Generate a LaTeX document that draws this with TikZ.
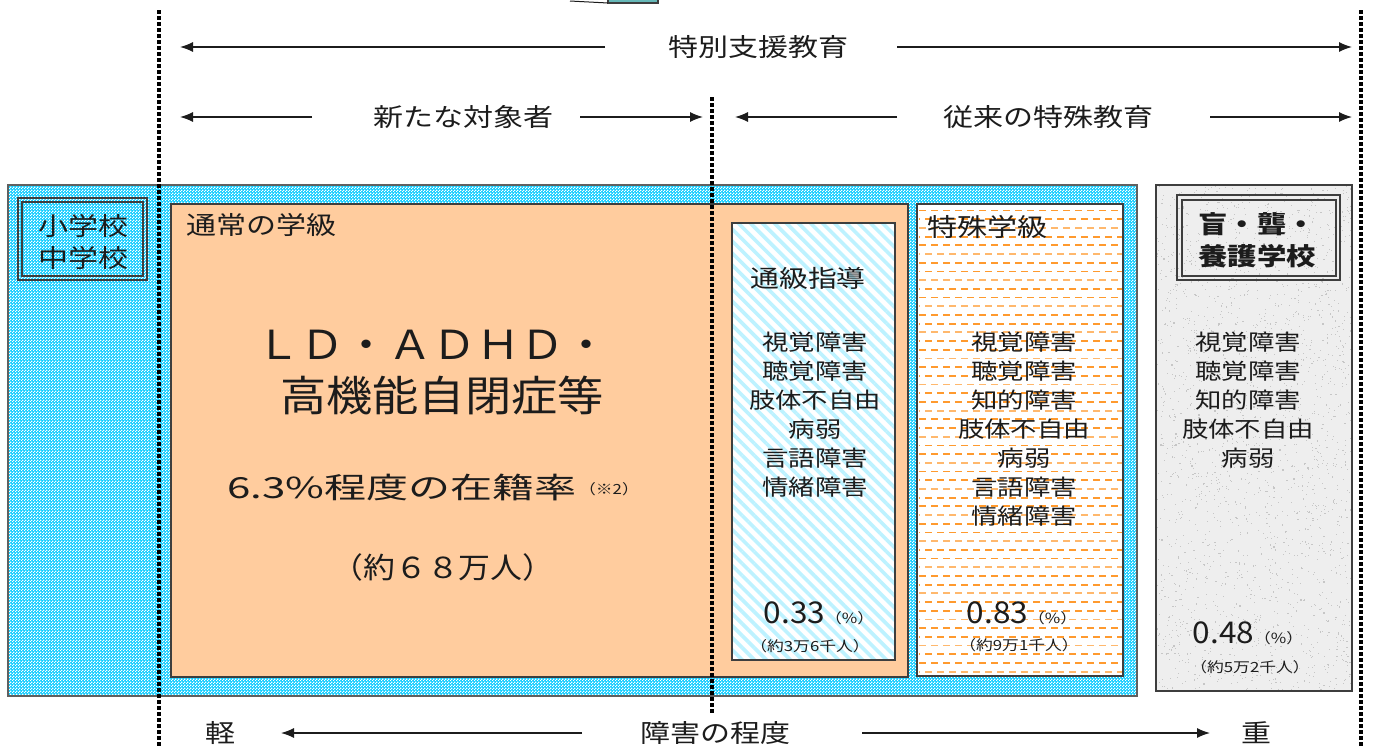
\documentclass[tikz,border=0pt]{standalone}
\usepackage{fontspec}
\usetikzlibrary{arrows.meta,patterns,patterns.meta}
\newfontfamily\jp[FakeStretch=1.2]{Noto Sans CJK JP}
\newfontfamily\jpw[FakeStretch=1.45]{Noto Sans CJK JP}
\newfontfamily\jpn[FakeStretch=1.1]{Noto Sans CJK JP}
\newfontfamily\jpd[FakeStretch=1.05]{Noto Sans CJK JP}
\definecolor{cyanbg}{HTML}{10CCFF}
\definecolor{peach}{HTML}{FFCC9E}
\definecolor{stripecol}{HTML}{BDF2FF}
\definecolor{dashor}{HTML}{FF9A2E}
\definecolor{grayfill}{HTML}{EEEEEE}
\definecolor{ink}{HTML}{1C1C1C}
\definecolor{boxteal}{HTML}{66B8B8}
\pgfdeclarepatternformonly{checker}{\pgfqpoint{0pt}{0pt}}{\pgfqpoint{3pt}{3pt}}{\pgfqpoint{3pt}{3pt}}{%
  \pgfpathrectangle{\pgfqpoint{0pt}{0pt}}{\pgfqpoint{1.5pt}{1.5pt}}%
  \pgfpathrectangle{\pgfqpoint{1.5pt}{1.5pt}}{\pgfqpoint{1.5pt}{1.5pt}}%
  \pgfusepath{fill}}
\tikzset{
  dotline/.style={draw=black, line width=4pt, dash pattern=on 3.5pt off 2.5pt},
  arr/.style={draw=ink, line width=1.3pt, -{Latex[length=13pt,width=10pt]}},
  boxline/.style={draw=ink!85, line width=1.3pt},
  lbl/.style={font=\jp\fontsize{25}{30}\selectfont, text=ink, inner sep=0pt},
  item/.style={font=\jp\fontsize{22}{29}\selectfont, text=ink, inner sep=0pt, align=center, anchor=north},
  pct/.style={text=ink, inner sep=0pt},
  small/.style={font=\jp\fontsize{14}{16}\selectfont, text=ink, inner sep=0pt},
  panel/.style={boxline, rectangle, inner sep=0pt, outer sep=0pt, anchor=north west},
}
\begin{document}
\begin{tikzpicture}[x=1pt,y=-1pt]
\useasboundingbox (0,0) rectangle (1374,747);
\fill[white] (0,0) rectangle (1374,747);

% cut-off element at top
\coordinate (cutl) at (570,1);
\node[panel, fill=boxteal, minimum width=50pt, minimum height=14pt] (cutbox) at (608,-11) {};
\draw[ink, line width=1pt] (cutl) -- (cutbox.south west);

% outer blue panel
\node[panel, minimum width=1129pt, minimum height=511pt,
      preaction={fill=cyanbg}, pattern=checker, pattern color=white] (outer) at (8,185) {};
\node[panel, minimum width=1129pt, minimum height=511pt, draw=ink!70, line width=1.2pt] at (8,185) {};

% small double box
\node[panel, minimum width=129pt, minimum height=82pt] (sm) at (18,198) {};
\draw[boxline] ([shift={(4,4)}]sm.north west) rectangle ([shift={(-4,-4)}]sm.south east);
\node[lbl, align=center, font=\jp\fontsize{25}{32}\selectfont] (smt) at (83,242) {小学校\\中学校};

% orange regular class box
\node[panel, fill=peach, minimum width=737pt, minimum height=473pt] (reg) at (171,204) {};
\node[lbl, anchor=west] (regt) at (186,225) {通常の学級};

% tsukyu box with stripes
\node[panel, minimum width=163pt, minimum height=437pt, fill=white] (tsu) at (732,223) {};
\begin{scope}
  \clip (tsu.north west) rectangle (tsu.south east);
  \fill[pattern={Lines[angle=-45,distance=8.5pt,line width=3.6pt]}, pattern color=stripecol]
    (tsu.north west) rectangle (tsu.south east);
\end{scope}
\node[panel, minimum width=163pt, minimum height=437pt] at (732,223) {};

% special class box with orange dashes
\node[panel, minimum width=206pt, minimum height=472pt, fill=white] (spc) at (917,204) {};
\begin{scope}
  \clip ([shift={(1,1)}]spc.north west) rectangle ([shift={(-1,-1)}]spc.south east);
  \foreach \i in {0,...,53} {
    \pgfmathsetmacro\yy{210.5+\i*8.7}
    \pgfmathsetmacro\ph{mod(\i,2)*6}
    \pgfmathtruncatemacro\lt{mod(\i,3)}
    \ifnum\lt=2
      \draw[dashor!70, line width=1.8pt, dash pattern=on 7pt off 5pt, dash phase=\ph pt] (919,\yy) -- (1122,\yy);
    \else
      \draw[dashor, line width=1.8pt, dash pattern=on 7pt off 5pt, dash phase=\ph pt] (919,\yy) -- (1122,\yy);
    \fi
  }
\end{scope}
\node[panel, minimum width=206pt, minimum height=472pt] at (917,204) {};
\node[lbl, anchor=west] (spct) at (927,227) {特殊学級};

% gray school box
\node[panel, fill=grayfill, minimum width=196pt, minimum height=506pt] (sch) at (1156,185) {};
\begin{scope}
  \clip (sch.north west) rectangle (sch.south east);
  \pgfmathsetseed{17}
  \foreach \i in {1,...,2200} {
    \fill[gray!45] ({1156+rnd*196},{185+rnd*506}) rectangle ++(1.1,1.1);
  }
\end{scope}
\node[panel, minimum width=196pt, minimum height=506pt] at (1156,185) {};
\node[panel, minimum width=163pt, minimum height=85pt, line width=1.8pt] (schb) at (1177,195) {};
\draw[boxline, line width=1.5pt] ([shift={(5,5)}]schb.north west) rectangle ([shift={(-4,-4)}]schb.south east);
\node[lbl, align=left, font=\jp\bfseries\fontsize{24.5}{32}\selectfont] (scht) at (1257,240) {盲・聾・\\養護学校};

% dotted vertical lines
\coordinate (dl1) at (158.5,10);
\coordinate (dl2) at (158.5,747);
\coordinate (dr1) at (1360.5,10);
\coordinate (dr2) at (1360.5,747);
\coordinate (dm1) at (712,97);
\coordinate (dm2) at (712,714);
\draw[dotline] (dl1) -- (dl2);
\draw[dotline] (dr1) -- (dr2);
\draw[dotline] (dm1) -- (dm2);

% top row arrows
\node[lbl] (t1) at (758,47) {特別支援教育};
\coordinate (a1s) at (605,47);  \coordinate (a1e) at (180,47);
\coordinate (a2s) at (897,47);  \coordinate (a2e) at (1352,47);
\draw[arr] (a1s) -- (a1e);
\draw[arr] (a2s) -- (a2e);

\node[lbl] (t2) at (463,117) {新たな対象者};
\coordinate (b1s) at (312,117); \coordinate (b1e) at (180,117);
\coordinate (b2s) at (580,117); \coordinate (b2e) at (703,117);
\draw[arr] (b1s) -- (b1e);
\draw[arr] (b2s) -- (b2e);

\node[lbl] (t3) at (1048,117) {従来の特殊教育};
\coordinate (c1s) at (897,117); \coordinate (c1e) at (735,117);
\coordinate (c2s) at (1210,117); \coordinate (c2e) at (1352,117);
\draw[arr] (c1s) -- (c1e);
\draw[arr] (c2s) -- (c2e);

% big text in regular class
\node[pct, font=\jpn\fontsize{40}{44}\selectfont] (big1) at (432,345) {ＬＤ・ＡＤＨＤ・};
\node[pct, font=\jpn\fontsize{42}{46}\selectfont] (big2) at (442,395) {高機能自閉症等};
\node[pct, font=\jpw\fontsize{29}{33}\selectfont] (rate) at (402,487) {6.3\%程度の在籍率};
\node[small, anchor=west] (note) at ([xshift=2pt,yshift=-2pt]rate.east) {（※2）};
\node[pct, font=\jpn\fontsize{29}{33}\selectfont] (num) at (443,567) {（約６８万人）};

% tsukyu content
\node[pct, font=\jp\fontsize{24}{28}\selectfont] (tsut) at (808,278) {通級指導};
\node[item] (tsul) at (815,332) {視覚障害\\聴覚障害\\肢体不自由\\病弱\\言語障害\\情緒障害};
\node[pct] (tsup) at (819,613) {{\jpd\fontsize{30}{34}\selectfont 0.33}{\jp\fontsize{14}{16}\selectfont （\%）}};
\node[small] (tsun) at (810,646) {（約3万6千人）};

% special class content
\node[item] (spcl) at (1024,332) {視覚障害\\聴覚障害\\知的障害\\肢体不自由\\病弱\\言語障害\\情緒障害};
\node[pct] (spcp) at (1022,613) {{\jpd\fontsize{30}{34}\selectfont 0.83}{\jp\fontsize{14}{16}\selectfont （\%）}};
\node[small] (spcn) at (1019,645) {（約9万1千人）};

% school content
\node[item] (schl) at (1248,332) {視覚障害\\聴覚障害\\知的障害\\肢体不自由\\病弱};
\node[pct] (schp) at (1248,633) {{\jpd\fontsize{30}{34}\selectfont 0.48}{\jp\fontsize{14}{16}\selectfont （\%）}};
\node[small] (schn) at (1250,667) {（約5万2千人）};

% bottom axis
\node[lbl] (light) at (220,733) {軽};
\node[lbl] (deg) at (715,733) {障害の程度};
\node[lbl] (heavy) at (1256,733) {重};
\coordinate (d1s) at (582,733); \coordinate (d1e) at (281,733);
\coordinate (d2s) at (862,733); \coordinate (d2e) at (1210,733);
\draw[arr] (d1s) -- (d1e);
\draw[arr] (d2s) -- (d2e);
\end{tikzpicture}
\end{document}
